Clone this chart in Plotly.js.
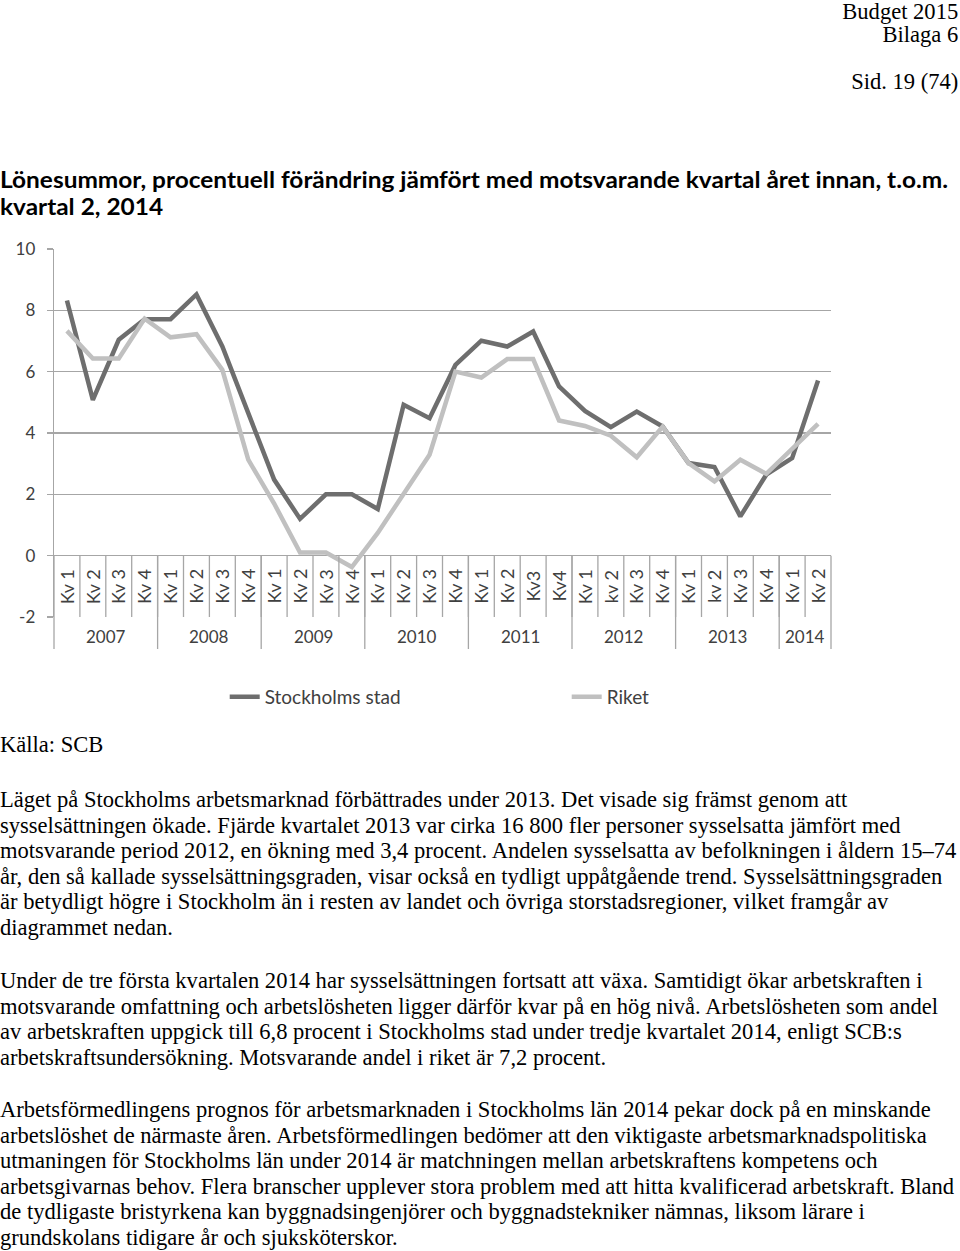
<!DOCTYPE html>
<html>
<head>
<meta charset="utf-8">
<script src="https://cdn.plot.ly/plotly-3.0.1.min.js"></script>
<style>
  html, body { margin:0; padding:0; background:#fff; width:960px; height:1251px; overflow:hidden; }
  #chart { position:absolute; left:0; top:0; width:960px; height:780px; }
  .ln { position:absolute; left:0; white-space:nowrap; font-family:'Liberation Serif','Times New Roman',serif;
        font-size:23px; line-height:26px; color:#000; transform-origin:0 50%; }
  .hd { position:absolute; right:2px; white-space:nowrap; font-family:'Liberation Serif','Times New Roman',serif;
        font-size:23px; line-height:26px; color:#000; transform-origin:100% 50%; text-align:right; }
  .tt { position:absolute; left:0; white-space:nowrap; font-family:'Lato','Open Sans',sans-serif; font-weight:700;
        font-size:22px; line-height:26px; color:#000; transform-origin:0 50%; }
</style>
</head>
<body>
<div id="chart"></div>
<div id="text"></div>
<script>
// ---------- data ----------
const quarterLabels = [
  'Kv 1','Kv 2','Kv 3','Kv 4',
  'Kv 1','Kv 2','Kv 3','Kv 4',
  'Kv 1','Kv 2','Kv 3','Kv 4',
  'Kv 1','Kv 2','Kv 3','Kv 4',
  'Kv 1','Kv 2','Kv3','Kv4',
  'Kv 1','kv 2','Kv 3','Kv 4',
  'Kv 1','kv 2','Kv 3','Kv 4',
  'Kv 1','Kv 2'
];
const yearLabels = ['2007','2008','2009','2010','2011','2012','2013','2014'];
const quartersPerYear = [4,4,4,4,4,4,4,2];
const stockholmsStad = [8.32,5.08,7.04,7.71,7.71,8.52,6.82,4.69,2.48,1.20,2.00,2.00,1.52,4.92,4.48,6.22,7.01,6.82,7.31,5.52,4.72,4.19,4.70,4.21,3.02,2.89,1.28,2.64,3.18,5.71];
const riket = [7.33,6.43,6.43,7.73,7.12,7.22,6.06,3.13,1.70,0.10,0.10,-0.37,0.74,2.04,3.29,6.00,5.81,6.41,6.41,4.41,4.23,3.91,3.21,4.21,3.02,2.42,3.13,2.67,3.51,4.30];
const seriesNames = ['Stockholms stad','Riket'];
const yTickValues = [-2,0,2,4,6,8,10];
const yTickText = ['-2','0','2','4','6','8','10'];

const headerLines = ['Budget 2015','Bilaga 6','','Sid. 19 (74)'];
const titleLines = ['Lönesummor, procentuell förändring jämfört med motsvarande kvartal året innan, t.o.m.','kvartal 2, 2014'];
const sourceText = 'Källa: SCB';
const paragraphs = [
  ['Läget på Stockholms arbetsmarknad förbättrades under 2013. Det visade sig främst genom att',
   'sysselsättningen ökade. Fjärde kvartalet 2013 var cirka 16 800 fler personer sysselsatta jämfört med',
   'motsvarande period 2012, en ökning med 3,4 procent. Andelen sysselsatta av befolkningen i åldern 15–74',
   'år, den så kallade sysselsättningsgraden, visar också en tydligt uppåtgående trend. Sysselsättningsgraden',
   'är betydligt högre i Stockholm än i resten av landet och övriga storstadsregioner, vilket framgår av',
   'diagrammet nedan.'],
  ['Under de tre första kvartalen 2014 har sysselsättningen fortsatt att växa. Samtidigt ökar arbetskraften i',
   'motsvarande omfattning och arbetslösheten ligger därför kvar på en hög nivå. Arbetslösheten som andel',
   'av arbetskraften uppgick till 6,8 procent i Stockholms stad under tredje kvartalet 2014, enligt SCB:s',
   'arbetskraftsundersökning. Motsvarande andel i riket är 7,2 procent.'],
  ['Arbetsförmedlingens prognos för arbetsmarknaden i Stockholms län 2014 pekar dock på en minskande',
   'arbetslöshet de närmaste åren. Arbetsförmedlingen bedömer att den viktigaste arbetsmarknadspolitiska',
   'utmaningen för Stockholms län under 2014 är matchningen mellan arbetskraftens kompetens och',
   'arbetsgivarnas behov. Flera branscher upplever stora problem med att hitta kvalificerad arbetskraft. Bland',
   'de tydligaste bristyrkena kan byggnadsingenjörer och byggnadstekniker nämnas, liksom lärare i',
   'grundskolans tidigare år och sjuksköterskor.']
];

// ---------- chart ----------
const xIdx = quarterLabels.map((_, i) => i);
const nCat = quarterLabels.length;
const gridCol = '#a6a6a6';
const txtCol = '#404040';
const fontFam = 'Lato, "Open Sans", sans-serif';
const yMin = -2, yMax = 10;
const zeroPaper = (0 - yMin) / (yMax - yMin);
const yearRowBottom = -0.087;
const yearLabelY = -0.054;

const traces = [
  {x: xIdx, y: stockholmsStad, name: seriesNames[0], type: 'scatter', mode: 'lines',
   line: {color: '#6e6e6e', width: 4.5}},
  {x: xIdx, y: riket, name: seriesNames[1], type: 'scatter', mode: 'lines',
   line: {color: '#c0c0c0', width: 4.5}}
];

const annotations = [];
const shapes = [];
quarterLabels.forEach((q, i) => {
  annotations.push({x: i, y: (0 + yMin) / 2, xref: 'x', yref: 'y', xanchor: 'center', yanchor: 'middle',
    text: q, showarrow: false, textangle: -90, font: {family: fontFam, size: 18, color: txtCol}});
  if (i > 0) {
    shapes.push({type: 'line', xref: 'paper', yref: 'y', x0: i / nCat, x1: i / nCat, y0: 0, y1: yMin,
      line: {color: gridCol, width: 1.3}});
  }
});
let start = 0;
yearLabels.forEach((yr, k) => {
  const cnt = quartersPerYear[k];
  annotations.push({x: (start + cnt / 2) / nCat, y: yearLabelY, xref: 'paper', yref: 'paper',
    xanchor: 'center', yanchor: 'middle', text: yr,
    showarrow: false, font: {family: fontFam, size: 17, color: txtCol}});
  shapes.push({type: 'line', xref: 'paper', yref: 'paper', x0: start / nCat, x1: start / nCat,
    y0: zeroPaper, y1: yearRowBottom, line: {color: gridCol, width: 1.3}});
  start += cnt;
});
shapes.push({type: 'line', xref: 'paper', yref: 'paper', x0: 1, x1: 1,
  y0: zeroPaper, y1: yearRowBottom, line: {color: gridCol, width: 1.3}});

const layout = {
  width: 960, height: 780,
  margin: {l: 54, r: 129, t: 249, b: 163, pad: 0, autoexpand: false},
  paper_bgcolor: 'rgba(0,0,0,0)', plot_bgcolor: 'rgba(0,0,0,0)',
  showlegend: true,
  legend: {orientation: 'h', x: 0.2197, y: -0.217, xanchor: 'left', yanchor: 'middle',
    font: {family: fontFam, size: 19, color: txtCol}, entrywidth: 297, entrywidthmode: 'pixels',
    bgcolor: 'rgba(0,0,0,0)'},
  xaxis: {range: [-0.5, nCat - 0.5], showgrid: false, zeroline: false, showticklabels: false,
    ticks: '', showline: false, fixedrange: true},
  yaxis: {range: [yMin, yMax], tickvals: yTickValues, ticktext: yTickText, showgrid: true, gridcolor: gridCol, gridwidth: 1.3,
    zeroline: false, showline: true, linecolor: gridCol, linewidth: 1.3, ticks: 'outside', ticklen: 6,
    tickcolor: gridCol, tickwidth: 1.3, ticklabelstandoff: 8,
    tickfont: {family: fontFam, size: 17, color: txtCol}, fixedrange: true},
  annotations: annotations,
  shapes: shapes
};

Plotly.newPlot('chart', traces, layout, {staticPlot: true, displayModeBar: false});

// ---------- page text ----------
const textRoot = document.getElementById('text');
function addLine(cls, txt, centerY) {
  const d = document.createElement('div');
  d.className = cls;
  d.textContent = txt;
  d.style.top = (centerY - 13) + 'px';
  textRoot.appendChild(d);
  return d;
}
const headerY = [12, 35, 58, 82];
const hdEls = headerLines.map((t, i) => t ? addLine('hd', t, headerY[i]) : null).filter(Boolean);
const ttEls = titleLines.map((t, i) => addLine('tt', t, 180 + i * 27));
const bodyEls = [addLine('ln', sourceText, 745)];
const paraStart = [800, 981, 1110];
paragraphs.forEach((p, k) => p.forEach((t, i) => bodyEls.push(addLine('ln', t, paraStart[k] + i * 25.6))));

function fitText() {
  const ref = bodyEls[1 + 2]; // longest body line
  const sBody = 956 / ref.scrollWidth;
  bodyEls.forEach(e => e.style.transform = 'scaleX(' + sBody + ')');
  hdEls.forEach(e => e.style.transform = 'scaleX(' + sBody + ')');
  const sTitle = 948 / ttEls[0].scrollWidth;
  ttEls.forEach(e => e.style.transform = 'scaleX(' + sTitle + ')');
}
if (document.fonts && document.fonts.ready) { document.fonts.ready.then(fitText); }
fitText();
</script>
</body>
</html>
